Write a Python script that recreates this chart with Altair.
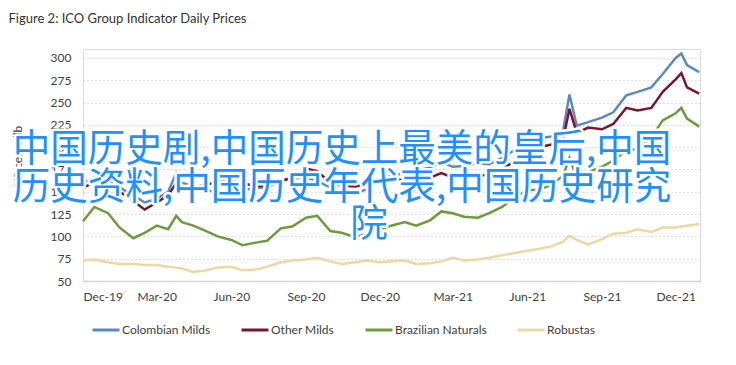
import altair as alt
import pandas as pd

dates = [
    "2019-12-01", "2019-12-15",
    "2020-01-01", "2020-01-15", "2020-02-01", "2020-02-15", "2020-03-01", "2020-03-15",
    "2020-03-25", "2020-04-01", "2020-04-15", "2020-05-01", "2020-05-15", "2020-06-01",
    "2020-06-15", "2020-07-01", "2020-07-15", "2020-08-01", "2020-08-15", "2020-09-01",
    "2020-09-15", "2020-10-01", "2020-10-15", "2020-11-01", "2020-11-15", "2020-12-01",
    "2020-12-15",
    "2021-01-01", "2021-01-15", "2021-02-01", "2021-02-15", "2021-03-01", "2021-03-15",
    "2021-04-01", "2021-04-15", "2021-05-01", "2021-05-15", "2021-06-01", "2021-06-15",
    "2021-07-01", "2021-07-15", "2021-07-23", "2021-08-01", "2021-08-15", "2021-09-01",
    "2021-09-15", "2021-10-01", "2021-10-15", "2021-11-01", "2021-11-15", "2021-12-01",
    "2021-12-08", "2021-12-15", "2021-12-30",
]

colombian_milds = [160, 166, 162, 155, 146, 138, 142, 150, 171, 160,
                   157, 152, 149, 151, 152, 154, 155, 162, 165, 166,
                   162, 155, 150, 148, 153, 162, 168, 171, 174, 177,
                   183, 178, 179, 182, 181, 188, 196, 204, 210, 212,
                   218, 259, 224, 228, 233, 239, 258, 262, 267, 282,
                   300, 305, 292, 284]
other_milds = [155, 160, 158, 150, 140, 130, 138, 146, 160, 156,
               155, 158, 161, 162, 159, 157, 156, 162, 166, 176,
               173, 160, 157, 156, 159, 161, 164, 163, 165, 166,
               171, 166, 166, 167, 170, 176, 183, 195, 200, 203,
               208, 243, 216, 222, 220, 226, 244, 241, 244, 262,
               276, 283, 267, 260]
brazilian_naturals = [117, 133, 126, 110, 98, 104, 112, 108, 123, 116,
                      112, 106, 100, 96, 90, 93, 95, 109, 111, 121,
                      123, 106, 104, 99, 103, 108, 112, 116, 112, 118,
                      128, 126, 122, 121, 126, 133, 143, 152, 152, 158,
                      168, 188, 166, 172, 178, 185, 196, 198, 211, 230,
                      238, 244, 232, 223]
robustas = [73, 74, 71, 69, 69, 68, 68, 66, 65, 64,
            60, 62, 65, 66, 62, 63, 66, 71, 73, 74,
            76, 72, 69, 71, 73, 71, 72, 73, 69, 70,
            72, 76, 73, 74, 76, 79, 81, 84, 86, 89,
            94, 101, 96, 91, 97, 103, 104, 108, 105, 110,
            110, 111, 112, 114]

series_names = ["Colombian Milds", "Other Milds", "Brazilian Naturals", "Robustas"]
series_colors = ["#5a8ac6", "#7a1430", "#6c9b3b", "#efd6a2"]
y_ticks = [50, 75, 100, 125, 150, 175, 200, 225, 250, 275, 300]
x_tick_months = [(2019, 12), (2020, 3), (2020, 6), (2020, 9), (2020, 12),
                 (2021, 3), (2021, 6), (2021, 9), (2021, 12)]
title_text = "Figure 2: ICO Group Indicator Daily Prices"
y_title = "US cents/lb"
overlay_lines = ["中国历史剧,中国历史上最美的皇后,中国",
                 "历史资料,中国历史年代表,中国历史研究",
                 "院"]

rows = []
for name, vals in zip(series_names, [colombian_milds, other_milds, brazilian_naturals, robustas]):
    for d, v in zip(dates, vals):
        rows.append({"date": d + "T00:00:00", "series": name, "price": v})
df = pd.DataFrame(rows)

x_ticks = [alt.DateTime(year=y, month=m, date=1) for y, m in x_tick_months]

lines = alt.Chart(df).mark_line(strokeWidth=2.5).encode(
    x=alt.X("date:T",
            scale=alt.Scale(domain=[alt.DateTime(year=2019, month=12, date=1),
                                    alt.DateTime(year=2021, month=12, date=31)]),
            axis=alt.Axis(values=x_ticks, format="%b-%y", title=None, grid=False,
                          ticks=False, domain=True, domainColor="#d3d3d3", domainWidth=1.5,
                          labelPadding=10, labelFont="Lato", labelFontSize=12,
                          labelColor="#404040")),
    y=alt.Y("price:Q",
            scale=alt.Scale(domain=[50, 310], nice=False, zero=False),
            axis=alt.Axis(values=y_ticks, title=y_title, grid=True, gridDash=[1, 3],
                          gridColor="#b8b8b8", gridWidth=1, domain=False, ticks=False,
                          labelPadding=12, labelFont="Lato", labelFontSize=12,
                          labelColor="#404040", titleFont="Lato", titleFontSize=12,
                          titleFontWeight="normal", titleColor="#404040",
                          titleAngle=270, titleX=-71, titleY=107, titleBaseline="top",
                          titleAlign="center")),
    color=alt.Color("series:N",
                    scale=alt.Scale(domain=series_names, range=series_colors),
                    legend=alt.Legend(title=None, orient="none", legendX=8, legendY=266,
                                      direction="horizontal", columns=4, columnPadding=24,
                                      symbolType="stroke", symbolSize=729,
                                      symbolStrokeWidth=3, labelOffset=1,
                                      labelFont="Lato", labelFontSize=12,
                                      labelColor="#404040")),
)


def overlay(text, px, py):
    d = pd.DataFrame({"t": [text]})
    halo = alt.Chart(d).mark_text(font="Noto Sans CJK SC", fontSize=37.5, fill="white",
                                  stroke="white", strokeWidth=5, strokeJoin="round",
                                  align="center", baseline="middle").encode(
        text="t:N", x=alt.value(px), y=alt.value(py))
    fill = alt.Chart(d).mark_text(font="Noto Sans CJK SC", fontSize=37.5, fill="#1e90ff",
                                  align="center", baseline="middle").encode(
        text="t:N", x=alt.value(px), y=alt.value(py))
    return [halo, fill]


layers = [lines]
layers += overlay(overlay_lines[0], 259, 101)
layers += overlay(overlay_lines[1], 259, 139)
layers += overlay(overlay_lines[2], 286, 176)

chart = alt.layer(*layers).properties(
    width=617,
    height=232,
    title=alt.TitleParams(title_text, anchor="start", frame="group", dx=-74.5, offset=12,
                          baseline="alphabetic", font="Lato", fontSize=13,
                          fontWeight="normal", color="#333333"),
    autosize=alt.AutoSizeParams(type="none"),
    padding={"left": 75, "top": 41, "right": 28, "bottom": 76},
).configure_view(strokeWidth=0).configure(background="white")

chart.save("out.html", embed_options={"renderer": "svg", "actions": False})
